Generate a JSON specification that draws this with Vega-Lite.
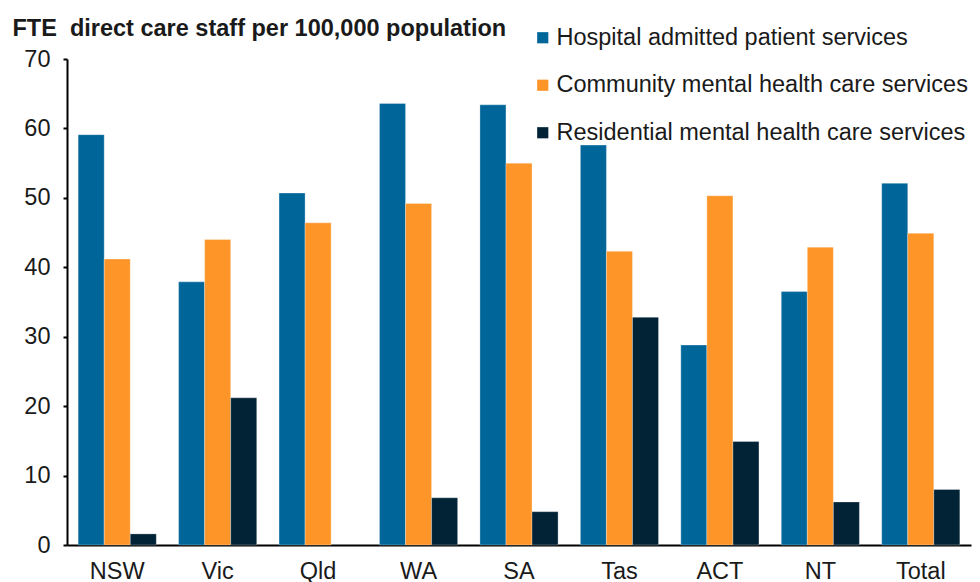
{
  "$schema": "https://vega.github.io/schema/vega-lite/v6.json",
  "autosize": {"type": "none"},
  "padding": {"left": 67, "top": 59, "right": 9, "bottom": 37},
  "width": 904,
  "height": 486,
  "background": "white",
  "data": {
    "values": [
      {"state": "NSW", "service": "Hospital admitted patient services", "value": 59.1},
      {"state": "NSW", "service": "Community mental health care services", "value": 41.2},
      {"state": "NSW", "service": "Residential mental health care services", "value": 1.6},
      {"state": "Vic", "service": "Hospital admitted patient services", "value": 37.9},
      {"state": "Vic", "service": "Community mental health care services", "value": 44.0},
      {"state": "Vic", "service": "Residential mental health care services", "value": 21.2},
      {"state": "Qld", "service": "Hospital admitted patient services", "value": 50.7},
      {"state": "Qld", "service": "Community mental health care services", "value": 46.4},
      {"state": "Qld", "service": "Residential mental health care services", "value": null},
      {"state": "WA", "service": "Hospital admitted patient services", "value": 63.6},
      {"state": "WA", "service": "Community mental health care services", "value": 49.2},
      {"state": "WA", "service": "Residential mental health care services", "value": 6.8},
      {"state": "SA", "service": "Hospital admitted patient services", "value": 63.4},
      {"state": "SA", "service": "Community mental health care services", "value": 55.0},
      {"state": "SA", "service": "Residential mental health care services", "value": 4.8},
      {"state": "Tas", "service": "Hospital admitted patient services", "value": 57.6},
      {"state": "Tas", "service": "Community mental health care services", "value": 42.3},
      {"state": "Tas", "service": "Residential mental health care services", "value": 32.8},
      {"state": "ACT", "service": "Hospital admitted patient services", "value": 28.8},
      {"state": "ACT", "service": "Community mental health care services", "value": 50.3},
      {"state": "ACT", "service": "Residential mental health care services", "value": 14.9},
      {"state": "NT", "service": "Hospital admitted patient services", "value": 36.5},
      {"state": "NT", "service": "Community mental health care services", "value": 42.9},
      {"state": "NT", "service": "Residential mental health care services", "value": 6.2},
      {"state": "Total", "service": "Hospital admitted patient services", "value": 52.1},
      {"state": "Total", "service": "Community mental health care services", "value": 44.9},
      {"state": "Total", "service": "Residential mental health care services", "value": 8.0}
    ]
  },
  "mark": {"type": "bar", "stroke": "white", "strokeWidth": 0.5, "strokeOpacity": 0.6},
  "encoding": {
    "x": {
      "field": "state",
      "type": "nominal",
      "sort": null,
      "scale": {"paddingInner": 0.222, "paddingOuter": 0.111},
      "axis": {
        "title": null,
        "labelAngle": 0,
        "labelFont": "Liberation Sans",
        "labelFontSize": 23.5,
        "labelColor": "#1a1a1a",
        "labelPadding": 14,
        "ticks": false,
        "domainColor": "black",
        "domainWidth": 2,
        "grid": false
      }
    },
    "xOffset": {
      "field": "service",
      "type": "nominal",
      "sort": ["Hospital admitted patient services", "Community mental health care services", "Residential mental health care services"],
      "scale": {"paddingInner": 0, "paddingOuter": 0}
    },
    "y": {
      "field": "value",
      "type": "quantitative",
      "scale": {"domain": [0, 70], "nice": false},
      "axis": {
        "title": "FTE\u00a0 direct care staff per 100,000 population",
        "titleAngle": 0,
        "titleX": -55,
        "titleY": -24,
        "titleAlign": "left",
        "titleBaseline": "alphabetic",
        "titleFont": "Liberation Sans",
        "titleFontSize": 23.5,
        "titleFontWeight": "bold",
        "titleColor": "#1a1a1a",
        "titleLimit": 900,
        "values": [0, 10, 20, 30, 40, 50, 60, 70],
        "labelFont": "Liberation Sans",
        "labelFontSize": 23.5,
        "labelColor": "#1a1a1a",
        "labelPadding": 13,
        "tickColor": "black",
        "tickSize": 4,
        "tickWidth": 2,
        "domainColor": "black",
        "domainWidth": 2,
        "grid": false
      }
    },
    "color": {
      "field": "service",
      "type": "nominal",
      "sort": ["Hospital admitted patient services", "Community mental health care services", "Residential mental health care services"],
      "scale": {
        "domain": ["Hospital admitted patient services", "Community mental health care services", "Residential mental health care services"],
        "range": ["#006699", "#fd9529", "#012335"]
      },
      "legend": {
        "title": null,
        "orient": "none",
        "legendX": 464,
        "legendY": -33,
        "symbolType": "square",
        "symbolSize": 125,
        "symbolStrokeWidth": 0,
        "labelFont": "Liberation Sans",
        "labelFontSize": 23.5,
        "labelColor": "#1a1a1a",
        "labelOffset": 2,
        "labelLimit": 600,
        "rowPadding": 22.5
      }
    }
  },
  "config": {"view": {"stroke": null}}
}
